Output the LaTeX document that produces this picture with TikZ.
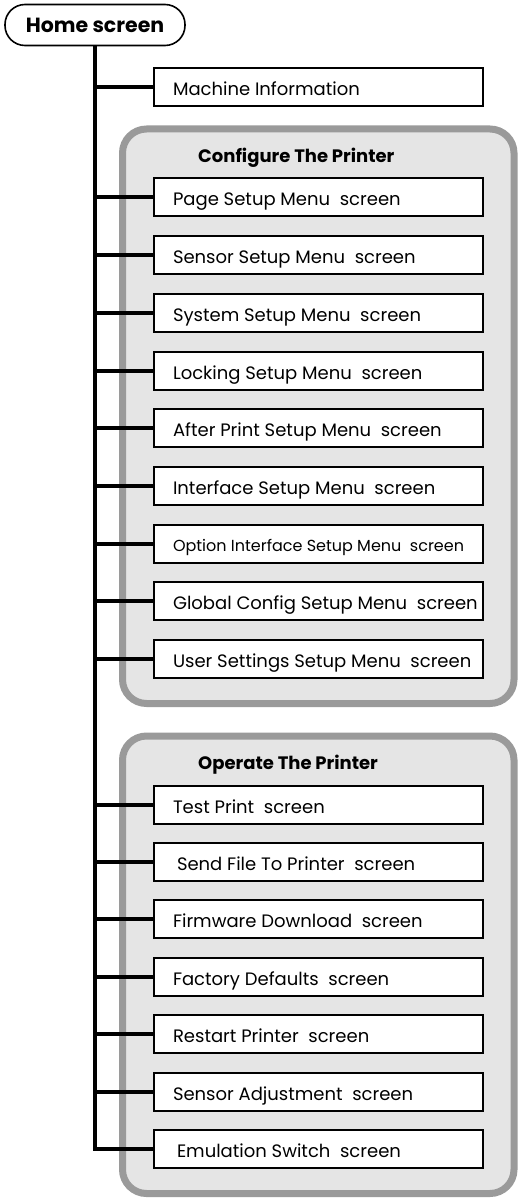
\documentclass[tikz,border=0pt]{standalone}
\usepackage{fontspec}
\setmainfont{Poppins}
\newcommand\scrtxt[1]{\hbox to 291pt{#1\hss}}
\hfuzz=100pt
\begin{document}
\begin{tikzpicture}[x=1pt,y=-1pt,
  groupbox/.style={draw=grpborder,fill=grpfill,line width=7pt,rounded corners=24pt},
  screenbox/.style={draw=black,fill=white,line width=2pt,anchor=west,
     inner xsep=19pt,inner ysep=0pt,minimum height=38pt,text height=17pt,text depth=0pt,
     font=\fontsize{18}{20}\selectfont},
  homebox/.style={draw=black,fill=white,line width=1.6pt,rounded corners=20pt,
     minimum width=180pt,minimum height=41pt,inner sep=0pt,font=\fontsize{20.5}{22}\selectfont\bfseries},
  grouptitle/.style={anchor=base west,inner sep=0pt,font=\fontsize{18}{20}\selectfont\bfseries},
  branch/.style={line width=4pt}]
\definecolor{grpborder}{HTML}{9A9A9A}
\definecolor{grpfill}{HTML}{E5E5E5}
\useasboundingbox (0,0) rectangle (519,1198);
% groups
\draw[groupbox] (122.5,129) rectangle (514,703.5);
\draw[groupbox] (122.5,736) rectangle (514,1193.5);
\node[grouptitle] (cfgtitle) at (198,162.5) {Configure The Printer};
\node[grouptitle] (optitle) at (198,769.5) {Operate The Printer};
% home
\node[homebox] (home) at (95,25) {Home screen};
% boxes
\node[screenbox] (mi) at (153,87) {\scrtxt{Machine Information}};
\node[screenbox] (c1) at (153,197.5) {\scrtxt{Page Setup Menu~ screen}};
\node[screenbox] (c2) at (153,255.2) {\scrtxt{Sensor Setup Menu~ screen}};
\node[screenbox] (c3) at (153,312.9) {\scrtxt{System Setup Menu~ screen}};
\node[screenbox] (c4) at (153,370.6) {\scrtxt{Locking Setup Menu~ screen}};
\node[screenbox] (c5) at (153,428.3) {\scrtxt{After Print Setup Menu~ screen}};
\node[screenbox] (c6) at (153,486.0) {\scrtxt{Interface Setup Menu~ screen}};
\node[screenbox,font=\fontsize{16}{18}\selectfont,text height=16pt] (c7) at (153,543.6) {\scrtxt{Option Interface Setup Menu~ screen}};
\node[screenbox] (c8) at (153,601.3) {\scrtxt{Global Config Setup Menu~ screen}};
\node[screenbox] (c9) at (153,659.0) {\scrtxt{User Settings Setup Menu~ screen}};
\node[screenbox] (o1) at (153,804.5) {\scrtxt{Test Print~ screen}};
\node[screenbox] (o2) at (153,861.9) {\scrtxt{\hspace*{4pt}Send File To Printer~ screen}};
\node[screenbox] (o3) at (153,919.3) {\scrtxt{Firmware Download~ screen}};
\node[screenbox] (o4) at (153,976.8) {\scrtxt{Factory Defaults~ screen}};
\node[screenbox] (o5) at (153,1034.2) {\scrtxt{Restart Printer~ screen}};
\node[screenbox] (o6) at (153,1091.6) {\scrtxt{Sensor Adjustment~ screen}};
\node[screenbox] (o7) at (153,1149) {\scrtxt{\hspace*{4pt}Emulation Switch~ screen}};
% trunk and branches
\draw[branch] (home.south) |- (o7.west);
\foreach \n in {mi,c1,c2,c3,c4,c5,c6,c7,c8,c9,o1,o2,o3,o4,o5,o6}
  \draw[branch] (home.south |- \n.west) -- (\n.west);
\end{tikzpicture}
\end{document}
